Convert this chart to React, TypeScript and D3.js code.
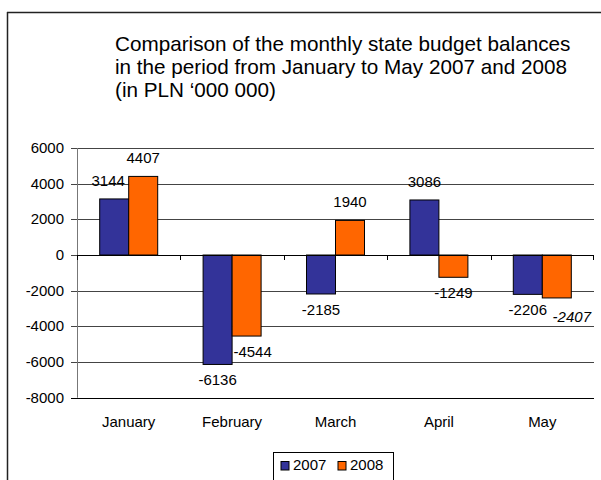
import React from "react";
import * as d3 from "d3";

const months = ["January", "February", "March", "April", "May"];
const series = ["2007", "2008"];
const values2007 = [3144, -6136, -2185, 3086, -2206];
const values2008 = [4407, -4544, 1940, -1249, -2407];
const yTicks = [6000, 4000, 2000, 0, -2000, -4000, -6000, -8000];
const titleLines = [
  "Comparison of the monthly state budget balances",
  "in the period from January to May 2007 and 2008",
  "(in PLN \u2018000 000)",
];
const colors = ["#333399", "#FF6600"];

const W = 601;
const H = 480;
const FONT = "'Liberation Sans', Arial, Helvetica, sans-serif";

export default function App() {
  const plotLeft = 77;
  const plotRight = 594;
  const plotTop = 148;
  const plotBottom = 397.7;

  const x = d3.scaleBand<string>().domain(months).range([plotLeft, plotRight]);
  const bw = 29;
  const sub = d3
    .scaleBand<string>()
    .domain(series)
    .range([x.bandwidth() / 2 - bw, x.bandwidth() / 2 + bw]);
  const y = d3.scaleLinear().domain([-8000, 6000]).range([plotBottom, plotTop]);

  const data = months.flatMap((m, i) => [
    { m, s: "2007", v: values2007[i], si: 0, i },
    { m, s: "2008", v: values2008[i], si: 1, i },
  ]);

  const nudge = (si: number, i: number) => {
    if (si === 1 && i === 4) return { dx: 15, dy: 3, italic: true };
    if (si === 0 && i === 0) return { dx: -6, dy: 0, italic: false };
    if (si === 1 && i === 1) return { dx: 6, dy: 0, italic: false };
    return { dx: 0, dy: 0, italic: false };
  };

  return (
    <svg
      width={W}
      height={H}
      style={{ position: "absolute", left: 0, top: 0, background: "#fff" }}
      fontFamily={FONT}
    >
      <rect x={0} y={0} width={W} height={H} fill="#fff" />
      {/* outer frame */}
      <line x1={7} x2={W} y1={12.5} y2={12.5} stroke="#222" strokeWidth={1.5} />
      <line x1={7.5} x2={7.5} y1={12} y2={H} stroke="#222" strokeWidth={1.5} />

      {/* title */}
      {titleLines.map((t, k) => (
        <text key={k} x={115} y={51 + k * 23} fontSize={20.7} fill="#000">
          {t}
        </text>
      ))}

      {/* gridlines */}
      {yTicks.map((t) => (
        <g key={t}>
          <line
            x1={plotLeft - 6}
            x2={plotRight}
            y1={Math.round(y(t)) + 0.5}
            y2={Math.round(y(t)) + 0.5}
            stroke={t === -8000 ? "#000" : "#444"}
            strokeWidth={1}
          />
          <text
            x={64}
            y={Math.round(y(t)) + 5}
            fontSize={15}
            textAnchor="end"
            fill="#000"
          >
            {t}
          </text>
        </g>
      ))}
      {/* y axis */}
      <line
        x1={plotLeft + 0.5}
        x2={plotLeft + 0.5}
        y1={plotTop}
        y2={plotBottom}
        stroke="#777"
      />

      {/* bars */}
      {data.map((d) => {
        const x0 = (x(d.m) as number) + (sub(d.s) as number);
        const y0 = y(Math.max(0, d.v));
        const y1 = y(Math.min(0, d.v));
        return (
          <rect
            key={d.m + d.s}
            x={x0}
            y={y0}
            width={sub.bandwidth()}
            height={y1 - y0}
            fill={colors[d.si]}
            stroke="#000"
            strokeWidth={1}
          />
        );
      })}

      {/* x axis at zero */}
      <line
        x1={plotLeft}
        x2={plotRight}
        y1={Math.round(y(0)) + 0.5}
        y2={Math.round(y(0)) + 0.5}
        stroke="#000"
      />
      {months.map((m) => (
        <line
          key={"t" + m}
          x1={Math.round(x(m) as number) + 0.5}
          x2={Math.round(x(m) as number) + 0.5}
          y1={y(0)}
          y2={y(0) + 5}
          stroke="#000"
        />
      ))}
      <line
        x1={plotRight - 0.5}
        x2={plotRight - 0.5}
        y1={y(0)}
        y2={y(0) + 5}
        stroke="#000"
      />

      {/* value labels */}
      {data.map((d) => {
        const cx = (x(d.m) as number) + (sub(d.s) as number) + sub.bandwidth() / 2;
        const n = nudge(d.si, d.i);
        const ly = d.v >= 0 ? y(d.v) - 13 : y(d.v) + 21;
        return (
          <text
            key={"l" + d.m + d.s}
            x={cx + n.dx}
            y={ly + n.dy}
            fontSize={15}
            textAnchor="middle"
            fontStyle={n.italic ? "italic" : "normal"}
            fill="#000"
          >
            {d.v}
          </text>
        );
      })}

      {/* category labels */}
      {months.map((m) => (
        <text
          key={"c" + m}
          x={(x(m) as number) + x.bandwidth() / 2}
          y={427}
          fontSize={15}
          textAnchor="middle"
          fill="#000"
        >
          {m}
        </text>
      ))}

      {/* legend */}
      <rect
        x={273.5}
        y={452.5}
        width={120}
        height={40}
        fill="#fff"
        stroke="#000"
      />
      {series.map((s, k) => (
        <g key={"lg" + s}>
          <rect
            x={281 + k * 57}
            y={461.5}
            width={8}
            height={8.5}
            fill={colors[k]}
            stroke="#000"
          />
          <text x={293 + k * 57} y={470} fontSize={15} fill="#000">
            {s}
          </text>
        </g>
      ))}
    </svg>
  );
}
